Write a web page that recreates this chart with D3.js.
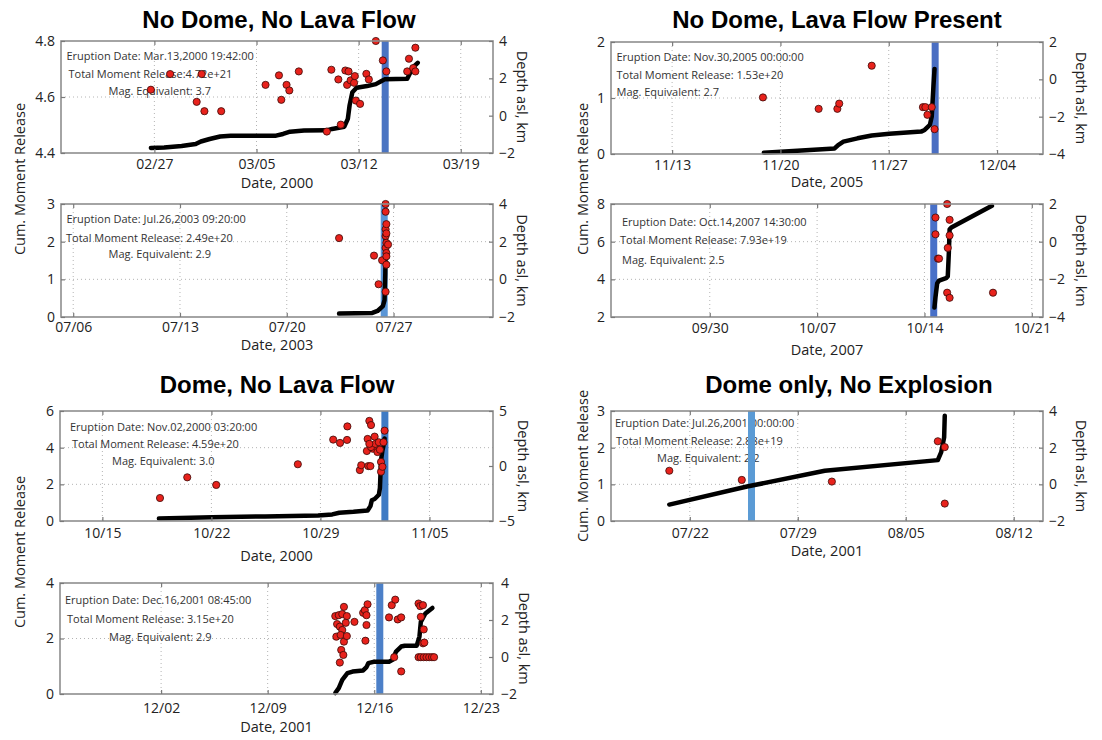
<!DOCTYPE html>
<html>
<head>
<meta charset="utf-8">
<script src="https://cdn.jsdelivr.net/npm/d3@7"></script>
<style>
  body { margin: 0; background: #fff; }
  svg { display: block; font-family: "Open Sans", "DejaVu Sans", sans-serif; }
  .grid { stroke: #b4b4b4; stroke-width: 1; stroke-dasharray: 1 3; }
  .note { font-size: 11px; fill: #333; }
  .tick text { font-family: "Open Sans", sans-serif; font-size: 14px; fill: #222; }
  .tick line { stroke: #7a7a7a; stroke-width: 1.2; }
  .axlabel { font-size: 14.5px; fill: #222; }
  .title { font-family: "Liberation Sans", Arial, sans-serif; font-weight: bold; font-size: 24px; fill: #000; }
</style>
</head>
<body>
<svg id="chart" width="1102" height="740"></svg>
<script>
// ---------------------------------------------------------------------------
// Event data. Times are given in days after each event's reference date.
// Moment values are cumulative moment release (scaled per panel),
// depth values are hypocentre depth above sea level in km.
// ---------------------------------------------------------------------------

// March 2000 - no dome, no lava flow
const p1Title = "No Dome, No Lava Flow";
const p1Ref = "2000-02-27";
const p1Span = [-6.40, 23.21];
const p1Eruption = "2000-03-13 19:42";
const p1Notes = ["Eruption Date: Mar.13,2000 19:42:00", "Total Moment Release:4.72e+21", "Mag. Equivalent: 3.7"];
const p1DateTicks = ["2000-02-27", "2000-03-05", "2000-03-12", "2000-03-19"];
const p1MomentTicks = [4.4, 4.6, 4.8];
const p1DepthTicks = [-2, 0, 2, 4];
const p1Moment = [[-0.24,4.418],[0.67,4.420],[1.87,4.425],[2.83,4.432],[3.19,4.441],[3.79,4.450],[4.51,4.459],[5.23,4.462],[8.34,4.462],[8.82,4.468],[9.30,4.476],[10.26,4.480],[11.82,4.481],[12.18,4.486],[13.02,4.494],[13.26,4.522],[13.38,4.570],[13.57,4.617],[13.86,4.633],[14.58,4.639],[15.18,4.646],[15.54,4.656],[15.78,4.663],[17.33,4.665],[17.50,4.683],[17.74,4.707],[18.05,4.722]];
const p1Depth = [[-0.24,1.39],[1.08,2.23],[2.90,0.74],[3.24,2.23],[3.43,0.24],[4.58,0.24],[7.62,1.65],[8.54,2.16],[8.70,0.85],[9.06,1.65],[9.25,1.35],[9.90,2.37],[11.82,-0.85],[12.13,2.46],[12.61,1.94],[12.78,-0.48],[13.09,2.42],[13.21,1.65],[13.31,2.37],[13.45,1.89],[13.69,1.76],[13.74,2.12],[13.81,0.81],[14.10,0.63],[14.53,2.24],[14.70,1.94],[15.18,4.0],[15.66,2.96],[15.90,2.37],[17.33,2.37],[17.45,3.05],[17.74,2.55],[17.89,3.64],[17.89,2.37]];

// July 2003
const p2Ref = "2003-07-06";
const p2Span = [-0.80, 27.52];
const p2Eruption = "2003-07-26 09:20";
const p2Notes = ["Eruption Date: Jul.26,2003 09:20:00", "Total Moment Release: 2.49e+20", "Mag. Equivalent: 2.9"];
const p2DateTicks = ["2003-07-06", "2003-07-13", "2003-07-20", "2003-07-27"];
const p2MomentTicks = [0, 1, 2, 3];
const p2DepthTicks = [-2, 0, 2, 4];
const p2Moment = [[17.43,0.09],[19.61,0.107],[19.95,0.16],[20.30,0.29],[20.41,0.45],[20.46,1.16],[20.48,2.06],[20.53,2.49]];
const p2Depth = [[17.43,2.19],[19.72,1.26],[20.02,-0.26],[20.25,1.01],[20.48,4.0],[20.48,3.59],[20.48,2.66],[20.48,2.30],[20.48,1.67],[20.48,-0.66],[20.53,2.93],[20.53,2.44],[20.53,1.94],[20.53,1.40],[20.53,1.22],[20.53,0.78],[20.64,1.85]];

// November 2005 - no dome, lava flow present
const p3Title = "No Dome, Lava Flow Present";
const p3Ref = "2005-11-13";
const p3Span = [-3.95, 23.97];
const p3Eruption = "2005-11-30 00:00";
const p3Notes = ["Eruption Date: Nov.30,2005 00:00:00", "Total Moment Release: 1.53e+20", "Mag. Equivalent: 2.7"];
const p3DateTicks = ["2005-11-13", "2005-11-20", "2005-11-27", "2005-12-04"];
const p3MomentTicks = [0, 1, 2];
const p3DepthTicks = [-4, -2, 0, 2];
const p3Moment = [[5.93,0.024],[8.10,0.06],[10.50,0.10],[10.73,0.16],[11.07,0.22],[11.98,0.28],[12.90,0.33],[14.04,0.36],[16.09,0.40],[16.32,0.43],[16.66,0.52],[16.78,0.67],[16.89,1.21],[16.96,1.52]];
const p3Depth = [[5.87,-0.97],[9.47,-1.58],[10.68,-1.58],[10.80,-1.30],[12.90,0.73],[16.21,-1.49],[16.37,-1.49],[16.78,-1.49],[16.50,-1.90],[16.96,-2.67]];

// October 2007
const p4Ref = "2007-09-30";
const p4Span = [-6.44, 21.73];
const p4Eruption = "2007-10-14 14:30";
const p4Notes = ["Eruption Date: Oct.14,2007 14:30:00", "Total Moment Release: 7.93e+19", "Mag. Equivalent: 2.5"];
const p4DateTicks = ["2007-09-30", "2007-10-07", "2007-10-14", "2007-10-21"];
const p4MomentTicks = [2, 4, 6, 8];
const p4DepthTicks = [-4, -2, 0, 2];
const p4Moment = [[14.65,2.50],[14.72,3.07],[14.83,3.79],[14.95,3.93],[15.41,4.06],[15.52,4.15],[15.59,5.40],[15.64,6.66],[15.75,6.75],[18.40,7.91]];
const p4Depth = [[15.48,2.0],[14.72,1.28],[15.64,1.16],[14.72,0.39],[15.64,0.33],[15.52,-0.33],[14.88,-0.90],[14.95,-0.90],[15.48,-2.71],[15.64,-2.98],[18.47,-2.71]];

// November 2000 - dome, no lava flow
const p5Title = "Dome, No Lava Flow";
const p5Ref = "2000-10-15";
const p5Span = [-2.72, 25.08];
const p5Eruption = "2000-11-02 03:20";
const p5Notes = ["Eruption Date: Nov.02,2000 03:20:00", "Total Moment Release: 4.59e+20", "Mag. Equivalent: 3.0"];
const p5DateTicks = ["2000-10-15", "2000-10-22", "2000-10-29", "2000-11-05"];
const p5MomentTicks = [0, 2, 4, 6];
const p5DepthTicks = [-5, 0, 5];
const p5Moment = [[3.63,0.14],[7.04,0.20],[10.44,0.25],[13.85,0.30],[14.76,0.36],[15.21,0.45],[16.12,0.50],[17.03,0.57],[17.21,0.81],[17.30,1.13],[17.48,1.20],[17.75,1.43],[17.82,1.79],[17.89,3.31],[17.98,3.85],[18.05,4.12],[18.12,4.50]];
const p5Depth = [[3.70,-2.91],[5.45,-1.03],[7.31,-1.72],[12.55,0.16],[14.82,2.40],[15.26,2.10],[15.71,2.37],[15.73,3.60],[16.53,-0.37],[16.62,0.07],[16.98,1.36],[17.03,2.46],[17.14,4.10],[17.25,3.72],[17.07,-0.01],[17.21,-0.01],[17.37,1.57],[17.48,2.67],[17.25,1.72],[17.53,2.01],[17.66,1.27],[17.75,2.16],[17.82,1.48],[17.89,0.37],[17.89,-0.52],[17.98,-0.07],[18.05,2.16],[18.12,3.21],[17.14,2.01]];

// July 2001 - dome only, no explosion
const p6Title = "Dome only, No Explosion";
const p6Ref = "2001-07-22";
const p6Span = [-5.11, 22.90];
const p6Eruption = "2001-07-26 00:00";
const p6Notes = ["Eruption Date: Jul.26,2001 00:00:00", "Total Moment Release: 2.88e+19", "Mag. Equivalent: 2.2"];
const p6DateTicks = ["2001-07-22", "2001-07-29", "2001-08-05", "2001-08-12"];
const p6MomentTicks = [0, 1, 2, 3];
const p6DepthTicks = [-2, 0, 2, 4];
const p6Moment = [[-1.33,0.448],[3.71,0.94],[8.75,1.37],[16.08,1.66],[16.30,1.88],[16.49,2.28],[16.53,2.87]];
const p6Depth = [[-1.33,0.74],[3.37,0.24],[9.21,0.15],[16.08,2.35],[16.53,2.03],[16.53,-1.05]];

// December 2001
const p7Ref = "2001-12-02";
const p7Span = [-6.64, 21.80];
const p7Eruption = "2001-12-16 08:45";
const p7Notes = ["Eruption Date: Dec.16,2001 08:45:00", "Total Moment Release: 3.15e+20", "Mag. Equivalent: 2.9"];
const p7DateTicks = ["2001-12-02", "2001-12-09", "2001-12-16", "2001-12-23"];
const p7MomentTicks = [0, 2, 4];
const p7DepthTicks = [-2, 0, 2, 4];
const p7Moment = [[11.44,0.036],[11.67,0.21],[11.90,0.51],[12.24,0.75],[12.58,0.81],[13.27,0.85],[13.49,0.97],[13.61,1.11],[13.95,1.16],[14.97,1.16],[15.20,1.23],[15.43,1.53],[15.77,1.71],[16.00,1.74],[16.79,1.74],[16.97,2.07],[17.06,2.60],[17.36,2.90],[17.82,3.10]];
const p7Depth = [[11.44,2.21],[11.67,2.26],[11.90,2.32],[12.01,2.71],[12.20,2.21],[11.56,1.78],[11.74,1.64],[11.90,1.46],[12.13,1.85],[11.51,1.10],[11.79,1.19],[12.01,0.83],[12.20,1.13],[11.83,0.38],[11.97,0.11],[11.74,-0.30],[12.70,1.90],[13.27,2.39],[13.38,2.53],[13.56,2.85],[13.49,2.26],[13.49,1.73],[13.42,0.88],[14.97,2.14],[15.15,2.80],[15.38,3.10],[15.54,2.03],[15.77,2.14],[15.31,-0.01],[15.77,-0.78],[16.91,2.89],[17.02,2.75],[17.20,2.80],[17.06,2.17],[17.25,1.49],[17.20,0.74],[17.29,0.78],[16.91,-0.01],[17.06,-0.01],[17.25,-0.01],[17.43,-0.01],[17.61,-0.01],[17.79,-0.01],[17.93,-0.01]];

const yAxisLabel = "Cum. Moment Release";
const depthLabel = "Depth asl, km";

// ---------------------------------------------------------------------------
// Panel table built from the arrays above, plus placement on the page.
// ---------------------------------------------------------------------------
const panels = [
  { ref: p1Ref, span: p1Span, eruption: p1Eruption, notes: p1Notes, dateTicks: p1DateTicks, mTicks: p1MomentTicks, dTicks: p1DepthTicks, moment: p1Moment, depth: p1Depth, year: "2000", bar: "#4a74c2",
    box: { x: 61, y: 41, w: 432, h: 112 }, noteX: [5.5, 7.5, 47.5], noteY: [19, 37, 54], tickPad: 6, rPad: 6, dateY: 30, depthDx: 29 },
  { ref: p2Ref, span: p2Span, eruption: p2Eruption, notes: p2Notes, dateTicks: p2DateTicks, mTicks: p2MomentTicks, dTicks: p2DepthTicks, moment: p2Moment, depth: p2Depth, year: "2003", bar: "#5b96d6",
    box: { x: 61, y: 204, w: 432, h: 113 }, noteX: [5.5, 5, 47.5], noteY: [19, 38, 54], tickPad: 5, rPad: 6, dateY: 28, depthDx: 29 },
  { ref: p3Ref, span: p3Span, eruption: p3Eruption, notes: p3Notes, dateTicks: p3DateTicks, mTicks: p3MomentTicks, dTicks: p3DepthTicks, moment: p3Moment, depth: p3Depth, year: "2005", bar: "#4a6ec2",
    box: { x: 611, y: 42, w: 432, h: 112 }, noteX: [5.5, 5.5, 5.5], noteY: [19, 37, 54], tickPad: 6, rPad: 6, dateY: 28, depthDx: 38 },
  { ref: p4Ref, span: p4Span, eruption: p4Eruption, notes: p4Notes, dateTicks: p4DateTicks, mTicks: p4MomentTicks, dTicks: p4DepthTicks, moment: p4Moment, depth: p4Depth, year: "2007", bar: "#4870c8",
    box: { x: 611, y: 204, w: 432, h: 113 }, noteX: [11, 9, 11], noteY: [22, 40, 60], tickPad: 6, rPad: 6, dateY: 33, depthDx: 38 },
  { ref: p5Ref, span: p5Span, eruption: p5Eruption, notes: p5Notes, dateTicks: p5DateTicks, mTicks: p5MomentTicks, dTicks: p5DepthTicks, moment: p5Moment, depth: p5Depth, year: "2000", bar: "#3f7bc4",
    box: { x: 60, y: 411, w: 433, h: 110 }, noteX: [10, 12, 52], noteY: [20, 37, 54], tickPad: 7, rPad: 6, dateY: 35, depthDx: 30 },
  { ref: p6Ref, span: p6Span, eruption: p6Eruption, notes: p6Notes, dateTicks: p6DateTicks, mTicks: p6MomentTicks, dTicks: p6DepthTicks, moment: p6Moment, depth: p6Depth, year: "2001", bar: "#5b9bd5",
    box: { x: 611, y: 411, w: 432, h: 110 }, noteX: [4, 5, 46], noteY: [16, 34, 51], tickPad: 7, rPad: 6, dateY: 30, depthDx: 38 },
  { ref: p7Ref, span: p7Span, eruption: p7Eruption, notes: p7Notes, dateTicks: p7DateTicks, mTicks: p7MomentTicks, dTicks: p7DepthTicks, moment: p7Moment, depth: p7Depth, year: "2001", bar: "#4c80c8",
    box: { x: 60, y: 583, w: 433, h: 111 }, noteX: [5, 7, 49], noteY: [21, 40, 58], tickPad: 9, rPad: 8, dateY: 33, depthDx: 31 }
];

const titles = [
  { text: p1Title, x: 279, y: 28 },
  { text: p3Title, x: 837, y: 28 },
  { text: p5Title, x: 277, y: 393 },
  { text: p6Title, x: 849, y: 393 }
];

const sideLabels = [
  { x: 20, y: 179 }, { x: 583, y: 179 }, { x: 20, y: 552 }, { x: 583, y: 466 }
];

// ---------------------------------------------------------------------------
const DAY = 864e5;
const parseDay = d3.utcParse("%Y-%m-%d");
const parseTime = d3.utcParse("%Y-%m-%d %H:%M");
const fmtTick = d3.utcFormat("%m/%d");
const svg = d3.select("#chart");

function drawPanel(p) {
  const B = p.box;
  const ref = parseDay(p.ref);
  const at = d => new Date(ref.getTime() + d * DAY);
  const x = d3.scaleUtc().domain(p.span.map(at)).range([0, B.w]);
  const yM = d3.scaleLinear().domain(d3.extent(p.mTicks)).range([B.h, 0]);
  const yD = d3.scaleLinear().domain(d3.extent(p.dTicks)).range([B.h, 0]);
  const tickDates = p.dateTicks.map(parseDay);

  const g = svg.append("g").attr("transform", `translate(${B.x},${B.y})`);

  // dotted grid
  g.append("g").selectAll("line").data(tickDates).join("line")
    .attr("class", "grid")
    .attr("x1", d => x(d)).attr("x2", d => x(d))
    .attr("y1", 0).attr("y2", B.h);
  g.append("g").selectAll("line").data(p.mTicks.slice(1, -1)).join("line")
    .attr("class", "grid")
    .attr("x1", 0).attr("x2", B.w)
    .attr("y1", d => yM(d)).attr("y2", d => yM(d));

  // annotation text
  g.append("g").selectAll("text").data(p.notes).join("text")
    .attr("class", "note")
    .attr("x", (d, i) => p.noteX[i])
    .attr("y", (d, i) => p.noteY[i])
    .text(d => d);

  // eruption marker
  const ex = x(parseTime(p.eruption));
  g.append("rect")
    .attr("x", ex - 3.5).attr("y", 0)
    .attr("width", 7).attr("height", B.h)
    .attr("fill", p.bar);

  // cumulative moment release
  g.append("path").datum(p.moment)
    .attr("d", d3.line().x(d => x(at(d[0]))).y(d => yM(d[1])))
    .attr("fill", "none")
    .attr("stroke", "#000")
    .attr("stroke-width", 4.5)
    .attr("stroke-linejoin", "round")
    .attr("stroke-linecap", "round");

  // hypocentre depths
  g.append("g").selectAll("circle").data(p.depth).join("circle")
    .attr("cx", d => x(at(d[0])))
    .attr("cy", d => yD(d[1]))
    .attr("r", 3.6)
    .attr("fill", "#e8221c")
    .attr("stroke", "#3a0a08")
    .attr("stroke-width", 0.8);

  // frame
  g.append("rect")
    .attr("width", B.w).attr("height", B.h)
    .attr("fill", "none")
    .attr("stroke", "#8e8e8e")
    .attr("stroke-width", 1.6);

  // axes (ticks pointing inward)
  const clean = sel => sel.call(s => s.select(".domain").remove());
  g.append("g").attr("transform", `translate(0,${B.h})`)
    .call(d3.axisBottom(x).tickValues(tickDates).tickFormat(fmtTick).tickSize(-4).tickPadding(p.tickPad))
    .call(clean);
  g.append("g")
    .call(d3.axisTop(x).tickValues(tickDates).tickFormat("").tickSize(-4))
    .call(clean);
  g.append("g")
    .call(d3.axisLeft(yM).tickValues(p.mTicks).tickFormat(d3.format("~g")).tickSize(-4).tickPadding(6))
    .call(clean);
  g.append("g").attr("transform", `translate(${B.w},0)`)
    .call(d3.axisRight(yD).tickValues(p.dTicks).tickFormat(d3.format("~g")).tickSize(-4).tickPadding(p.rPad))
    .call(clean);

  // axis titles
  g.append("text")
    .attr("class", "axlabel")
    .attr("x", B.w / 2).attr("y", B.h + p.dateY)
    .attr("dy", "0.35em")
    .attr("text-anchor", "middle")
    .text("Date, " + p.year);
  g.append("text")
    .attr("class", "axlabel")
    .attr("transform", `translate(${B.w + p.depthDx},${B.h / 2}) rotate(90)`)
    .attr("dy", "0.35em")
    .attr("text-anchor", "middle")
    .text(depthLabel);
}

panels.forEach(drawPanel);

svg.append("g").selectAll("text").data(titles).join("text")
  .attr("class", "title")
  .attr("x", d => d.x).attr("y", d => d.y)
  .attr("text-anchor", "middle")
  .text(d => d.text);

svg.append("g").selectAll("text").data(sideLabels).join("text")
  .attr("class", "axlabel")
  .attr("transform", d => `translate(${d.x},${d.y}) rotate(-90)`)
  .attr("dy", "0.35em")
  .attr("text-anchor", "middle")
  .text(yAxisLabel);
</script>
</body>
</html>
